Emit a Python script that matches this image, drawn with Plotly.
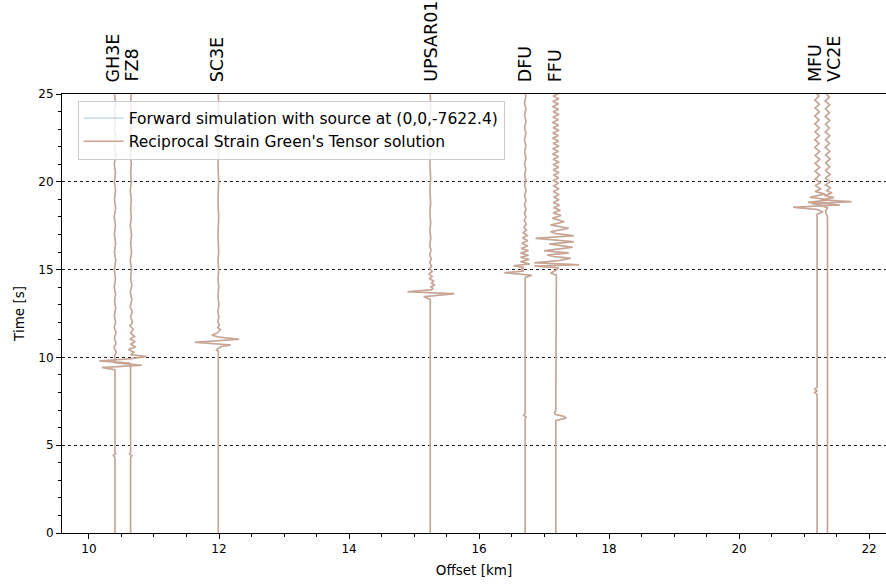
import plotly.graph_objects as go

# ---------------- data ----------------
stations = ["GH3E", "FZ8", "SC3E", "UPSAR01", "DFU", "FFU", "MFU", "VC2E"]
offsets_km = [10.40, 10.64, 11.99, 15.25, 16.71, 17.18, 21.20, 21.36]

# waveform samples: (time [s], amplitude [km of offset])
gh3e = [(0, 0), (4.3, 0), (4.42, -0.025), (4.52, 0.01), (4.62, 0), (9.3, 0), (9.42, -0.2), (9.56, 0.41),
        (9.7, 0.0), (9.8, -0.02), (9.9, 0.01), (10.05, -0.01), (10.3, 0.02), (10.55, -0.015), (10.8, 0.015),
        (11.1, -0.01), (11.4, 0.015), (11.7, -0.012), (12.0, 0.01), (12.4, -0.01), (12.8, 0.012), (13.2, -0.008),
        (13.6, 0.01), (14.0, -0.012), (14.5, 0.008), (15.0, -0.01), (15.5, 0.012), (16.0, -0.008), (16.5, 0.01),
        (17.0, -0.01), (17.5, 0.008), (18.0, -0.012), (18.5, 0.01), (19.0, -0.008), (19.5, 0.01), (20.0, -0.01),
        (20.5, 0.008), (21.0, -0.01), (21.5, 0.012), (22.0, -0.008), (22.5, 0.01), (23.0, -0.01), (23.5, 0.008),
        (24.0, -0.01), (24.5, 0.01), (25.0, -0.008), (25.3, 0)]
fz8 = [(0, 0), (4.3, 0), (4.4, 0.02), (4.5, -0.015), (4.6, 0), (9.6, 0), (9.68, -0.02), (9.8, -0.48),
       (9.92, 0.0), (10.05, 0.24), (10.15, 0.0), (10.3, 0.05), (10.45, -0.03), (10.6, 0.08), (10.75, 0.0),
       (10.9, 0.07), (11.05, -0.01), (11.2, 0.06), (11.4, 0.0), (11.6, 0.04), (11.8, -0.01), (12.0, 0.03),
       (12.3, 0.0), (12.6, 0.025), (12.9, -0.005), (13.3, 0.02), (13.7, -0.005), (14.1, 0.02), (14.5, 0.0),
       (15.0, 0.015), (15.5, -0.005), (16.0, 0.015), (16.5, 0.0), (17.0, 0.015), (17.5, -0.005), (18.0, 0.012),
       (18.5, 0.0), (19.0, 0.012), (19.5, -0.005), (20.0, 0.012), (20.5, 0.0), (21.0, 0.012), (21.5, -0.005),
       (22.0, 0.01), (22.5, 0.0), (23.0, 0.012), (23.5, -0.005), (24.0, 0.01), (24.5, 0.0), (25.0, 0.01),
       (25.3, 0)]
sc3e = [(0, 0), (10.35, 0), (10.42, -0.03), (10.52, 0.0), (10.62, 0.05), (10.71, 0.19), (10.86, -0.36),
        (11.03, 0.32), (11.16, 0.0), (11.28, -0.1), (11.38, -0.02), (11.47, 0.0), (11.58, 0.03), (11.7, -0.01),
        (11.85, 0.015), (12.05, -0.01), (12.3, 0.01), (12.6, -0.008), (13.0, 0.008), (13.5, -0.006),
        (14.0, 0.006), (14.5, -0.005), (15.0, 0.006), (15.5, -0.005), (16.0, 0.005), (17.0, -0.005),
        (18.0, 0.005), (19.0, -0.005), (20.0, 0.005), (21.0, -0.005), (22.0, 0.005), (23.0, -0.005),
        (24.0, 0.005), (25.3, 0)]
upsar01 = [(0, 0), (13.3, 0), (13.46, -0.1), (13.63, 0.37), (13.74, -0.35), (13.85, 0.02), (13.93, 0.04),
           (14.02, 0.01), (14.12, 0.07), (14.22, 0.02), (14.35, 0.05), (14.48, -0.01), (14.6, 0.03),
           (14.75, -0.02), (14.9, 0.03), (15.05, -0.01), (15.2, 0.02), (15.4, -0.01), (15.6, 0.015),
           (15.85, -0.01), (16.1, 0.01), (16.4, -0.008), (16.8, 0.008), (17.2, -0.006), (17.7, 0.006),
           (18.2, -0.006), (18.8, 0.005), (19.5, -0.005), (20.2, 0.005), (21.0, -0.005), (22.0, 0.005),
           (23.0, -0.005), (24.0, 0.005), (25.3, 0)]
dfu = [(0, 0), (6.5, 0), (6.6, 0.015), (6.7, -0.025), (6.8, 0), (14.55, 0), (14.68, 0.1), (14.82, -0.32),
       (14.92, -0.02), (15.02, -0.06), (15.12, -0.02), (15.22, -0.18), (15.32, 0.07), (15.45, -0.07),
       (15.58, 0.06), (15.7, -0.07), (15.82, 0.05), (15.95, -0.07), (16.08, 0.05), (16.2, -0.06), (16.35, 0.04),
       (16.5, -0.05), (16.65, 0.04), (16.8, -0.04), (16.95, 0.03), (17.1, -0.03), (17.25, 0.02), (17.4, -0.02),
       (17.6, 0.015), (17.8, -0.015), (18.0, 0.012), (18.2, -0.012), (18.45, 0.012), (18.7, -0.012),
       (18.95, 0.012), (19.2, -0.01), (19.5, 0.012), (19.8, -0.01), (20.1, 0.01), (20.4, -0.01), (20.7, 0.01),
       (21.0, -0.01), (21.35, 0.012), (21.7, -0.01), (22.05, 0.01), (22.4, -0.012), (22.75, 0.01),
       (23.1, -0.01), (23.45, 0.012), (23.8, -0.01), (24.15, 0.01), (24.5, -0.012), (24.85, 0.01),
       (25.3, 0)]
ffu = [(0, 0), (6.4, 0), (6.55, 0.16), (6.65, 0.12), (6.75, 0.0), (6.85, -0.02), (6.95, 0), (14.55, 0),
       (14.69, 0.01), (14.8, -0.08), (14.95, 0.0), (15.1, 0.04), (15.2, -0.33), (15.28, 0.36), (15.39, -0.33),
       (15.52, 0.05), (15.64, 0.23), (15.74, -0.03), (15.83, -0.13), (15.95, 0.2), (16.08, -0.18),
       (16.27, 0.26), (16.46, -0.1), (16.59, 0.28), (16.78, -0.31), (16.93, 0.28), (17.05, 0.0),
       (17.16, -0.08), (17.35, 0.2), (17.54, -0.08), (17.73, 0.13), (17.92, -0.05), (18.08, 0.08),
       (18.22, -0.04), (18.38, 0.07), (18.52, -0.03), (18.67, 0.06), (18.82, -0.04), (18.97, 0.05),
       (19.12, -0.03), (19.28, 0.05), (19.44, -0.04), (19.6, 0.05), (19.76, -0.03), (19.92, 0.04),
       (20.08, -0.04), (20.23, 0.045), (20.38, -0.035), (20.53, 0.05), (20.68, -0.04), (20.83, 0.045),
       (20.98, -0.04), (21.13, 0.05), (21.28, -0.04), (21.43, 0.045), (21.58, -0.05), (21.73, 0.04),
       (21.88, -0.045), (22.03, 0.05), (22.18, -0.04), (22.33, 0.045), (22.48, -0.05), (22.63, 0.04),
       (22.78, -0.045), (22.93, 0.05), (23.08, -0.04), (23.23, 0.045), (23.38, -0.05), (23.53, 0.04),
       (23.68, -0.045), (23.83, 0.05), (23.98, -0.04), (24.13, 0.045), (24.28, -0.05), (24.43, 0.04),
       (24.58, -0.045), (24.73, 0.05), (24.88, -0.04), (25.03, 0.045), (25.3, 0)]
mfu = [(0, 0), (7.9, 0), (8.0, -0.04), (8.1, 0.0), (8.2, -0.035), (8.3, 0), (18.15, 0), (18.3, 0.09),
       (18.42, 0.0), (18.55, -0.37), (18.68, 0.35), (18.83, -0.14), (18.96, 0.2), (19.12, -0.11), (19.3, 0.12),
       (19.45, -0.03), (19.6, 0.06), (19.78, -0.03), (19.95, 0.05), (20.15, -0.03), (20.38, 0.04),
       (20.6, -0.03), (20.82, 0.04), (21.05, -0.03), (21.28, 0.04), (21.5, -0.03), (21.72, 0.04),
       (21.95, -0.035), (22.18, 0.03), (22.4, -0.035), (22.62, 0.035), (22.85, -0.03), (23.08, 0.035),
       (23.3, -0.035), (23.52, 0.03), (23.75, -0.035), (23.98, 0.035), (24.2, -0.03), (24.42, 0.035),
       (24.65, -0.035), (24.88, 0.03), (25.1, -0.03), (25.3, 0)]
vc2e = [(0, 0), (18.0, 0), (18.2, -0.02), (18.35, -0.03), (18.5, 0.0), (18.65, -0.08), (18.77, -0.24),
        (18.87, 0.37), (18.98, -0.1), (19.1, 0.1), (19.22, -0.05), (19.36, 0.07), (19.5, -0.02), (19.65, 0.05),
        (19.82, -0.03), (20.0, 0.04), (20.2, -0.03), (20.42, 0.04), (20.64, -0.03), (20.86, 0.035),
        (21.08, -0.03), (21.3, 0.04), (21.52, -0.03), (21.74, 0.035), (21.96, -0.035), (22.18, 0.03),
        (22.4, -0.03), (22.62, 0.035), (22.84, -0.035), (23.06, 0.03), (23.28, -0.03), (23.5, 0.035),
        (23.72, -0.035), (23.94, 0.03), (24.16, -0.03), (24.38, 0.035), (24.6, -0.035), (24.82, 0.03),
        (25.04, -0.03), (25.3, 0)]

waveforms = [gh3e, fz8, sc3e, upsar01, dfu, ffu, mfu, vc2e]

x_ticks = [10, 12, 14, 16, 18, 20, 22]
y_ticks = [0, 5, 10, 15, 20, 25]

# ---------------- figure ----------------
xs, ys = [], []
for off, wf in zip(offsets_km, waveforms):
    for t, a in wf:
        xs.append(off + a)
        ys.append(t)
    xs.append(None)
    ys.append(None)

FONT = "DejaVu Sans"
fig = go.Figure()
fig.add_trace(go.Scatter(x=xs, y=ys, mode="lines",
                         name="Forward simulation with source at (0,0,-7622.4)",
                         line=dict(color="rgba(31,119,180,0.22)", width=1.6)))
fig.add_trace(go.Scatter(x=xs, y=ys, mode="lines",
                         name="Reciprocal Strain Green's Tensor solution",
                         line=dict(color="rgb(203,163,143)", width=1.5)))

label_shift = [-2, 0.5, -1, 0, 0, -1, -2, 6.5]
for name, off, sh in zip(stations, offsets_km, label_shift):
    fig.add_annotation(x=off, y=1, xref="x", yref="paper", text=name, showarrow=False,
                       textangle=-90, xanchor="center", yanchor="bottom", yshift=10, xshift=sh,
                       font=dict(family=FONT, size=17.5, color="black"))

fig.update_layout(
    width=886, height=584,
    margin=dict(l=62, r=0, t=94, b=51),
    plot_bgcolor="white", paper_bgcolor="white",
    font=dict(family=FONT, size=12, color="black"),
    showlegend=True,
    legend=dict(x=0.019, y=0.985, xanchor="left", yanchor="top", itemwidth=40,
                bgcolor="rgba(255,255,255,0.8)", bordercolor="#cccccc", borderwidth=1,
                font=dict(family=FONT, size=15.5, color="black")),
)
fig.update_xaxes(range=[9.585, 22.26], tickvals=x_ticks, ticktext=[str(v) for v in x_ticks],
                 ticks="outside", ticklen=5, tickcolor="black", showgrid=False, zeroline=False,
                 showline=True, linecolor="black", linewidth=1, mirror=True,
                 minor=dict(dtick=0.5, ticks="outside", ticklen=3, tickcolor="black", showgrid=False),
                 title=dict(text="Offset [km]", font=dict(family=FONT, size=13.5), standoff=10),
                 tickfont=dict(family=FONT, size=12))
fig.update_yaxes(range=[0, 25], tickvals=y_ticks, ticktext=[str(v) for v in y_ticks],
                 ticks="outside", ticklen=5, tickcolor="black", zeroline=False,
                 showgrid=True, gridcolor="#222222", gridwidth=0.5, griddash="dot",
                 showline=True, linecolor="black", linewidth=1,
                 minor=dict(dtick=1, ticks="outside", ticklen=3, tickcolor="black", showgrid=False),
                 title=dict(text="Time [s]", font=dict(family=FONT, size=13.5), standoff=10),
                 tickfont=dict(family=FONT, size=12))

# remove the default page margin so the 886x584 figure fills the window exactly
fig.write_html("out.html", config={"displayModeBar": False},
               post_script="document.body.style.margin='0';")
